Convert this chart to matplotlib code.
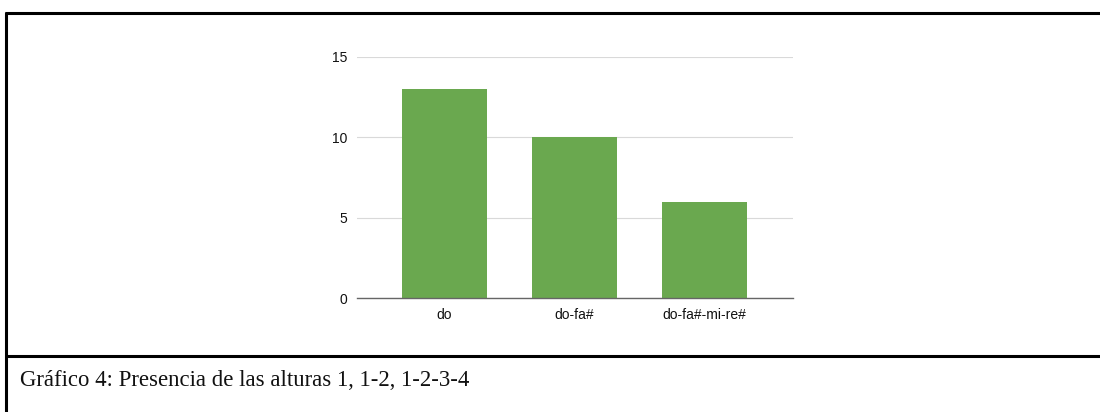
import matplotlib
matplotlib.use("Agg")
import matplotlib.pyplot as plt
from matplotlib.lines import Line2D

# datos del gráfico
categorias = ["do", "do-fa#", "do-fa#-mi-re#"]
valores = [13, 10, 6]
yticks = [0, 5, 10, 15]
leyenda = "Gráfico 4: Presencia de las alturas 1, 1-2, 1-2-3-4"

W, H = 1100, 412
fig = plt.figure(figsize=(W / 100, H / 100), dpi=100)
plt.rcParams["font.family"] = ["Liberation Sans", "DejaVu Sans"]

# área del gráfico en píxeles: x 357..793, y 57 (=15) .. 298 (=0)
ax = fig.add_axes([357 / W, 1 - 298 / H, (793 - 357) / W, (298 - 57) / H])
x = range(len(categorias))
ax.bar(x, valores, width=0.654, color="#6aa84f", zorder=3)
ax.set_xlim(-0.673, 2.68)
ax.set_ylim(0, 15)
ax.set_yticks(yticks)
ax.set_xticks(list(x))
ax.set_xticklabels(categorias)
ax.tick_params(axis="both", length=0, labelsize=10, colors="#111111")
ax.tick_params(axis="y", pad=7)
ax.tick_params(axis="x", pad=7)
ax.yaxis.grid(True, color="#d9d9d9", linewidth=0.8, zorder=0)
for s in ["top", "right", "left"]:
    ax.spines[s].set_visible(False)
ax.spines["bottom"].set_color("#666666")
ax.spines["bottom"].set_linewidth(1.0)
ax.spines["bottom"].set_zorder(4)
ax.set_facecolor("none")

# marco de la tabla
lw = 2.2
kw = dict(color="black", lw=lw, solid_capstyle="butt")
fig.add_artist(Line2D([6 / W, 6 / W], [0, 1 - 12 / H], **kw))
fig.add_artist(Line2D([5 / W, 1], [1 - 13 / H, 1 - 13 / H], **kw))
fig.add_artist(Line2D([5 / W, 1], [1 - 356 / H, 1 - 356 / H], **kw))

fig.text(20 / W, 1 - 386 / H, leyenda, fontsize=16.4, va="baseline", ha="left",
         family=["Liberation Serif", "DejaVu Serif"], color="#111111")

fig.savefig("out.png", dpi=100)
plt.close(fig)
